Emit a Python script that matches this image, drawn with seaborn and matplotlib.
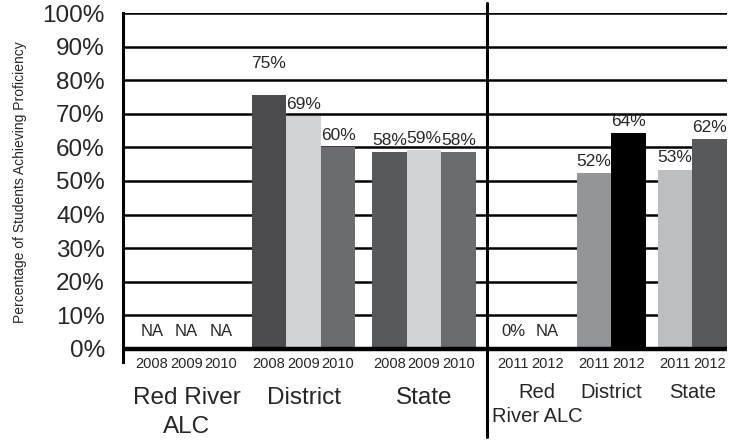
import numpy as np
import pandas as pd
import matplotlib
matplotlib.use("Agg")
import matplotlib.pyplot as plt
import seaborn as sns

# ---- data ----
groups = ["Red River\nALC", "District", "State", "Red\nRiver ALC", "District", "State"]
years_a = ["2008", "2009", "2010"]
years_b = ["2011", "2012"]

rr_a = [np.nan, np.nan, np.nan]
district_a = [75.6, 69.4, 60.0]
state_a = [58.6, 59.2, 58.5]
rr_b = [0.0, np.nan]
district_b = [52.4, 64.3]
state_b = [53.4, 62.5]

rr_a_lbl = ["NA", "NA", "NA"]
district_a_lbl = ["75%", "69%", "60%"]
state_a_lbl = ["58%", "59%", "58%"]
rr_b_lbl = ["0%", "NA"]
district_b_lbl = ["52%", "64%"]
state_b_lbl = ["53%", "62%"]

# ---- layout / style ----
group_start = [0.84, 4.23, 7.72, 11.30, 13.65, 16.0]
divider_x = 10.55
colors_a = ["#4b4b4d", "#d1d2d4", "#6b6c6f"]
colors_state_a = ["#58595b", "#d1d2d4", "#6b6c6f"]
colors_rr = ["#888888", "#888888", "#888888"]
colors_district_b = ["#939598", "#000000"]
colors_state_b = ["#bcbec0", "#58595b"]

sets = [
    (groups[0], years_a, rr_a, rr_a_lbl, colors_rr),
    (groups[1], years_a, district_a, district_a_lbl, colors_a),
    (groups[2], years_a, state_a, state_a_lbl, colors_state_a),
    (groups[3], years_b, rr_b, rr_b_lbl, colors_rr[:2]),
    (groups[4], years_b, district_b, district_b_lbl, colors_district_b),
    (groups[5], years_b, state_b, state_b_lbl, colors_state_b),
]

rows = []
for gi, (g, yrs, vals, lbls, cols) in enumerate(sets):
    for j, (yr, v, lb, c) in enumerate(zip(yrs, vals, lbls, cols)):
        rows.append({"key": f"{gi}-{yr}", "group": gi, "year": yr,
                     "pos": group_start[gi] + j, "value": v,
                     "label": lb, "color": c})
df = pd.DataFrame(rows)

sns.set_style("white")
plt.rcParams["font.family"] = ["Liberation Sans", "DejaVu Sans"]

fig = plt.figure(figsize=(7.43, 4.42), dpi=100)
ax = fig.add_axes([123 / 743, 1 - 362 / 442, 604 / 743, 349 / 442])

palette = dict(zip(df["key"], df["color"]))
sns.barplot(data=df.dropna(subset=["value"]), x="pos", y="value", hue="key",
            palette=palette, native_scale=True, dodge=False, width=1.0,
            errorbar=None, legend=False, linewidth=0, saturation=1, ax=ax, zorder=2)

ax.set_xlim(0, 17.5)
ax.set_ylim(-3.9, 100)
ax.set_yticks(range(0, 101, 10))
ax.set_yticklabels([f"{t}%" for t in range(0, 101, 10)], fontsize=17.5)
ax.tick_params(axis="y", direction="out", length=8, width=1.8, color="black", pad=5)
ax.set_axisbelow(True)
ax.yaxis.grid(True, color="black", linewidth=1.8)
ax.axhline(0, color="black", linewidth=3.2, zorder=3)

ax.set_xticks(df["pos"])
ax.set_xticklabels(df["year"], fontsize=10.5)
ax.tick_params(axis="x", length=0, pad=-3.5)
ax.set_xlabel("")
ax.set_ylabel("")

for s in ["top", "right", "bottom"]:
    ax.spines[s].set_visible(False)
ax.spines["left"].set_linewidth(2.2)
ax.spines["left"].set_color("black")

# divider between periods
ax.axvline(divider_x, ymin=-0.215, ymax=1.029, color="black", linewidth=2.2, clip_on=False)

# value labels
for _, r in df.iterrows():
    if np.isnan(r["value"]):
        y, off, fs = 0, 7, 12
    else:
        y, off, fs = r["value"], 3, 12.5
        if r["value"] == 0:
            off, fs = 7, 12
    if r["label"] == "75%":
        off = 17
    ax.annotate(r["label"], (r["pos"], y), xytext=(0, off), textcoords="offset points",
                ha="center", va="bottom", fontsize=fs)

# group labels
trans = ax.get_xaxis_transform()
for gi, g in enumerate(groups):
    n = len(sets[gi][1])
    cx = group_start[gi] + (n - 1) / 2
    if gi < 3:
        ax.text(cx, (362 - 387) / 349, g, transform=trans, ha="center", va="top",
                fontsize=17.5, linespacing=1.4)
    else:
        ax.text(cx + (0.2 if gi == 3 else 0), (362 - 383) / 349, g, transform=trans,
                ha="center", va="top", fontsize=14.5, linespacing=1.35)

fig.text(20 / 743, 1 - 182 / 442, "Percentage of Students Achieving Proficiency",
         rotation=90, ha="center", va="center", fontsize=10)

fig.savefig("out.png", dpi=100)
